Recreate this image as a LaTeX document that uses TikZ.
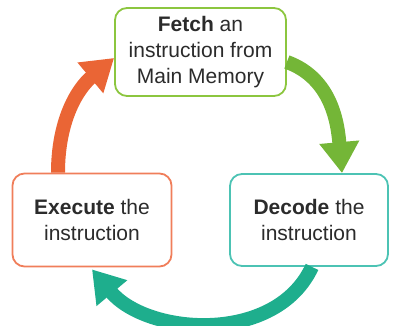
\documentclass[tikz,border=0pt]{standalone}
\usepackage{fontspec}
\setmainfont{Liberation Sans}
\usepackage{xcolor}
\usepackage{tikz}
\usetikzlibrary{arrows.meta, positioning, calc}
\definecolor{clrGreen}{HTML}{8CC63F}
\definecolor{clrGreenDark}{HTML}{74B637}
\definecolor{clrOrange}{HTML}{F07E5A}
\definecolor{clrOrangeDark}{HTML}{EA6535}
\definecolor{clrTeal}{HTML}{4CC3B4}
\definecolor{clrTealDark}{HTML}{1EAE8D}
\definecolor{clrText}{HTML}{2B2B2B}
\tikzset{
  cycle box/.style={rectangle, draw, line width=1.8pt, fill=white, rounded corners=12pt, align=center, text=clrText, font=\fontsize{21}{26}\selectfont},
  fetch box/.style={cycle box, draw=clrGreen, minimum width=171pt, minimum height=88pt},
  exec box/.style={cycle box, draw=clrOrange, minimum width=159pt, minimum height=93pt},
  decode box/.style={cycle box, draw=clrTeal, minimum width=158pt, minimum height=92pt},
  big arr/.style={-{Triangle[length=31pt, width=38pt]}, line width=14pt},
}

\begin{document}
\begin{tikzpicture}
  \useasboundingbox (0,0) rectangle (393pt,326pt);

  % Boxes
  \node[fetch box] (FETCH) at (200.5pt,274pt) {\textbf{Fetch} an\\instruction from\\Main Memory};
  \node[exec box] (EXEC) at (92pt,106pt) {\textbf{Execute} the\\instruction};
  \node[decode box] (DECODE) at (309pt,106pt) {\textbf{Decode} the\\instruction};

  % Arrows
  \draw[big arr, clrOrangeDark] ([xshift=-34pt]EXEC.north) to[out=90, in=220] ([yshift=-6pt]FETCH.west);
  \draw[big arr, clrGreenDark] ([yshift=-10pt]FETCH.east) to[out=-20, in=95] ([xshift=33pt]DECODE.north);
  \draw[big arr, clrTealDark] ([xshift=3pt]DECODE.south) to[out=-115, in=-50] ([yshift=-2pt]EXEC.south);
\end{tikzpicture}
\end{document}
